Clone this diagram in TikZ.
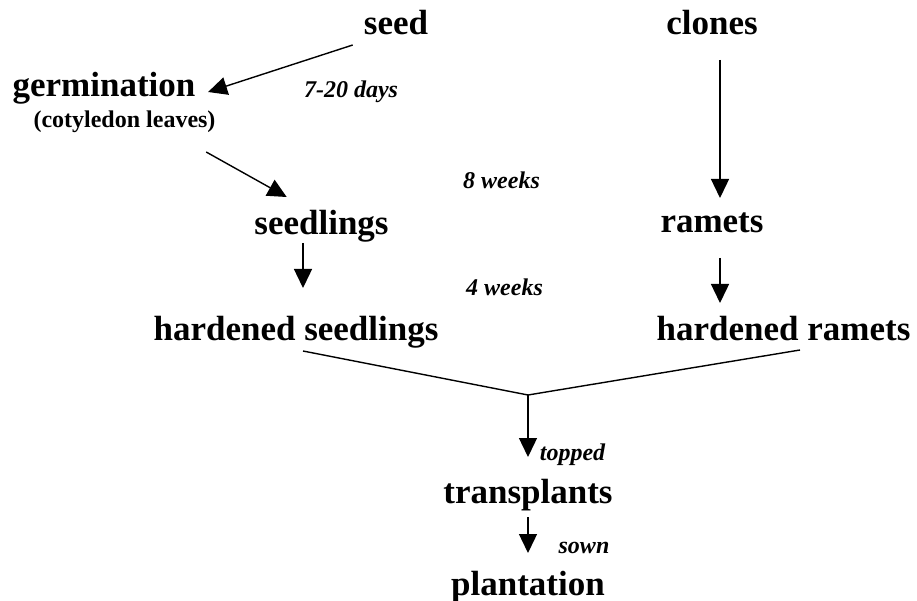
\documentclass[tikz,border=0pt]{standalone}
\usepackage{fontspec}
\setmainfont{Liberation Serif}
\usetikzlibrary{arrows.meta}

\begin{document}
\begin{tikzpicture}
	[x=1pt, y=-1pt, line width=1.4pt,
	every node/.style={inner sep=0pt, anchor=base, font=\fontsize{35}{40}\selectfont\bfseries},
	lbl/.style={font=\fontsize{24}{28}\selectfont\bfseries\itshape},
	small/.style={font=\fontsize{24}{28}\selectfont\bfseries},
	arr/.style={-{Triangle[length=19pt,width=18pt]}}]
	\useasboundingbox (0,0) rectangle (917,601);
	\node (seed) at (396,35) {seed};
	\node (clones) at (712,35) {clones};
	\node (germ) at (104,97) {germination};
	\node[small] (leaves) at (124.5,128) {(cotyledon leaves)};
	\node (seedl) at (321.5,235) {seedlings};
	\node (ramets) at (712,233) {ramets};
	\node (hseed) at (296,340) {hardened seedlings};
	\node (hramets) at (783.5,340) {hardened ramets};
	\node (trans) at (528,503) {transplants};
	\node (plant) at (528,595) {plantation};
	\node[lbl] (days) at (351,98) {7-20 days};
	\node[lbl] (eight) at (501.5,189) {8 weeks};
	\node[lbl] (four) at (504.5,295) {4 weeks};
	\node[lbl] (topped) at (572.5,460) {topped};
	\node[lbl] (sown) at (584,553) {sown};
	\coordinate (join) at (528,395);
	\draw[arr] ([shift={(-10.5,10)}]seed.base west) -- ([shift={(12,-5)}]germ.base east);
	\draw[arr] ([shift={(-10,24)}]leaves.base east) -- ([shift={(33,-38)}]seedl.base west);
	\draw[arr] ([shift={(8,25)}]clones.base) -- ([shift={(8,-35)}]ramets.base);
	\draw[arr] ([shift={(-18.5,8)}]seedl.base) -- ([shift={(7,-52)}]hseed.base);
	\draw[arr] ([shift={(8,25)}]ramets.base) -- ([shift={(-63.5,-37)}]hramets.base);
	\draw ([shift={(7,11)}]hseed.base) -- (join) -- ([shift={(16.5,10)}]hramets.base);
	\draw[arr] (join) -- ([shift={(0,-46)}]trans.base);
	\draw[arr] ([shift={(0,14)}]trans.base) -- ([shift={(0,-42)}]plant.base);
\end{tikzpicture}
\end{document}
